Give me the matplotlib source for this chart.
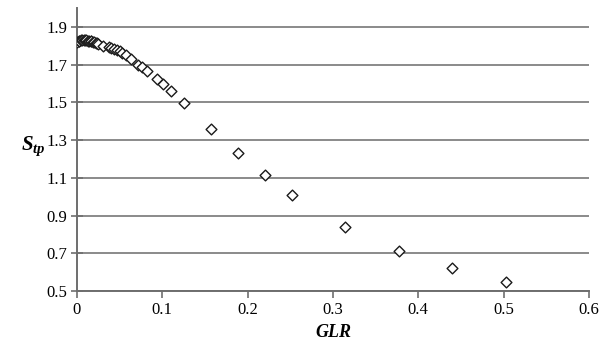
import matplotlib
matplotlib.use("Agg")
import matplotlib.pyplot as plt
import numpy as np

# GLR vs S_tp
glr = [0.000, 0.002, 0.003, 0.005, 0.006, 0.008, 0.009, 0.011, 0.013, 0.014,
       0.016, 0.017, 0.019, 0.020, 0.022, 0.024, 0.025, 0.031, 0.037, 0.040,
       0.044, 0.047, 0.050, 0.053, 0.057, 0.063, 0.071, 0.076, 0.082, 0.094,
       0.101, 0.110, 0.126, 0.157, 0.189, 0.220, 0.252, 0.314, 0.377, 0.440,
       0.503]
stp = [1.818, 1.823, 1.826, 1.829, 1.830, 1.830, 1.829, 1.828, 1.827, 1.826,
       1.825, 1.823, 1.821, 1.819, 1.817, 1.815, 1.812, 1.800, 1.795, 1.790,
       1.782, 1.776, 1.770, 1.763, 1.752, 1.730, 1.700, 1.685, 1.665, 1.625,
       1.600, 1.560, 1.495, 1.360, 1.230, 1.115, 1.010, 0.840, 0.710, 0.620,
       0.550]

xticks = [0, 0.1, 0.2, 0.3, 0.4, 0.5, 0.6]
xtick_labels = ["0", "0.1", "0.2", "0.3", "0.4", "0.5", "0.6"]
yticks = [0.5, 0.7, 0.9, 1.1, 1.3, 1.5, 1.7, 1.9]
ytick_labels = ["0.5", "0.7", "0.9", "1.1", "1.3", "1.5", "1.7", "1.9"]

plt.rcParams["font.family"] = ["Liberation Serif", "DejaVu Serif"]
plt.rcParams["mathtext.fontset"] = "custom"
plt.rcParams["mathtext.bfit"] = "Liberation Serif:bold:italic"
plt.rcParams["mathtext.it"] = "Liberation Serif:italic"

fig = plt.figure(figsize=(6.01, 3.49), dpi=100)
ax = fig.add_axes([0.128, 0.166, 0.852, 0.811])

for y in yticks:
    ax.axhline(y, color="#8a8a8a", lw=1.4, zorder=1)

ax.scatter(glr, stp, marker="D", s=30, facecolor="white", edgecolor="#1a1a1a",
           linewidth=1.0, zorder=3)

ax.set_xlim(0, 0.6)
ax.set_ylim(0.5, 2.0)
ax.set_xticks(xticks)
ax.set_xticklabels(xtick_labels)
ax.set_yticks(yticks)
ax.set_yticklabels(ytick_labels)

for side in ["top", "right"]:
    ax.spines[side].set_visible(False)
for side in ["left", "bottom"]:
    ax.spines[side].set_color("#6e6e6e")
    ax.spines[side].set_linewidth(1.4)

ax.tick_params(axis="y", direction="inout", length=8, width=1.2, color="#6e6e6e",
               labelsize=12, pad=3)
ax.tick_params(axis="x", direction="out", length=5, width=1.2, color="#6e6e6e",
               labelsize=12, pad=3)

ax.set_xlabel("GLR", fontsize=13, fontweight="bold", fontstyle="italic")
ax.set_ylabel(r"$\mathbfit{S}_{\mathbfit{tp}}$", fontsize=15, rotation=0,
              labelpad=14)
ax.yaxis.set_label_coords(-0.085, 0.47)

fig.savefig("out.png", dpi=100)
